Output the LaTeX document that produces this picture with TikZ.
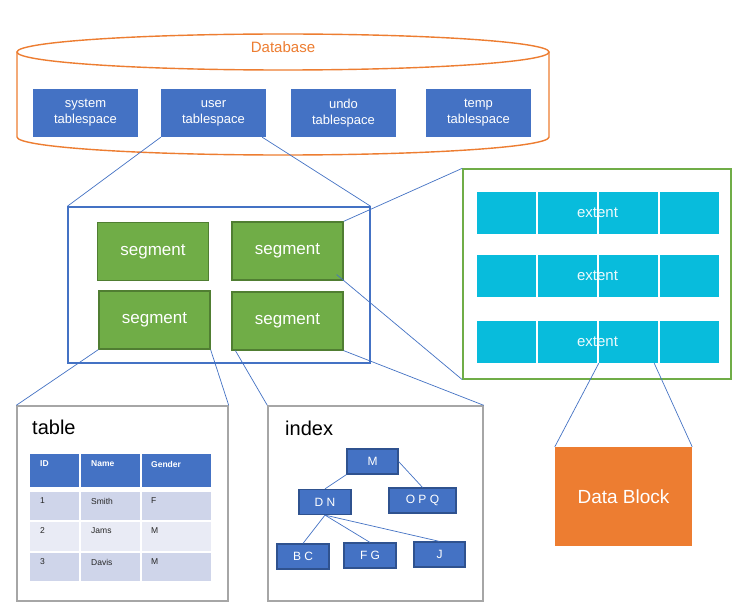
\documentclass[tikz,border=0pt]{standalone}
\usepackage{fontspec}
\setmainfont{Liberation Sans}
\usetikzlibrary{calc}
\definecolor{tsblue}{HTML}{4472C4}
\definecolor{dkblue}{HTML}{2F528F}
\definecolor{orng}{HTML}{ED7D31}
\definecolor{grn}{HTML}{70AD47}
\definecolor{dkgrn}{HTML}{507E32}
\definecolor{cyanx}{RGB}{8,188,220}
\definecolor{gry}{HTML}{A6A6A6}
\definecolor{rowa}{HTML}{CFD5EA}
\definecolor{rowb}{HTML}{E9EBF5}
\newcommand{\fsz}[2]{\fontsize{#1}{#2}\selectfont}
\begin{document}
\begin{tikzpicture}[x=1pt,y=-1pt,
  tspace/.style={fill=tsblue, text=white, minimum width=105pt, minimum height=48pt, inner sep=0pt, align=center, font=\fsz{13}{16}},
  seg/.style={fill=grn, draw=dkgrn, line width=1.2pt, text=white, minimum width=111pt, minimum height=58pt, inner sep=0pt, font=\fsz{17}{20}},
  cell/.style={fill=cyanx, minimum width=59pt, minimum height=42pt, inner sep=0pt},
  exttext/.style={text=white!92!cyanx, font=\fsz{15}{18}, inner sep=0pt},
  link/.style={draw=tsblue, line width=0.7pt},
  frame/.style={draw=#1, line width=1.4pt, inner sep=0pt, fill=none},
  inode/.style={fill=tsblue, draw=dkblue, line width=1.2pt, text=white, minimum height=25pt, inner sep=0pt, font=\fsz{12}{14}},
  tcell/.style={fill=#1, inner sep=0pt},
  thtext/.style={text=white, font=\bfseries\fsz{8.5}{10}, anchor=west, inner sep=0pt},
  tdtext/.style={text=black!85, font=\fsz{8.5}{10}, anchor=west, inner sep=0pt},
  title/.style={font=\fsz{20}{24}, anchor=west, inner sep=0pt}
]
\useasboundingbox (0,0) rectangle (734,615);
\fill[white] (0,0) rectangle (734,615);

% Database cylinder
\draw[orng, line width=1.4pt] (17,52) .. controls (17,42.06) and (136.1,34) .. (283,34) .. controls (429.9,34) and (549,42.06) .. (549,52) .. controls (549,61.94) and (429.9,70) .. (283,70) .. controls (136.1,70) and (17,61.94) .. (17,52) -- cycle;
\draw[orng, line width=1.4pt] (17,52) -- (17,137) .. controls (17,146.94) and (136.1,155) .. (283,155) .. controls (429.9,155) and (549,146.94) .. (549,137) -- (549,52);
\node[text=orng, font=\fsz{15}{18}] (dbtxt) at (283,47) {Database};

% tablespaces
\node[tspace] (sys)  at (85.5,113)  {system\\tablespace};
\node[tspace] (user) at (213.5,113) {user\\tablespace};
\node[tspace] (undo) at (343.5,113) {undo\\tablespace};
\node[tspace] (temp) at (478.5,113) {temp\\tablespace};

% segment container
\node[frame=tsblue, minimum width=302pt, minimum height=156pt] (cont) at (219,285) {};
\node[seg] (seg1) at (153,251.5) {segment};
\node[seg] (seg2) at (287.5,251) {segment};
\node[seg] (seg3) at (154.5,320) {segment};
\node[seg] (seg4) at (287.5,321) {segment};

% extent box
\node[frame=grn, minimum width=268pt, minimum height=210pt] (ext) at (597,274) {};
\foreach \r/\y in {1/213,2/276,3/342}{
  \node[cell] (e\r a) at (506.5,\y) {};
  \node[cell] (e\r b) at (567.5,\y) {};
  \node[cell] (e\r c) at (628.5,\y) {};
  \node[cell] (e\r d) at (689.5,\y) {};
  \node[exttext] (et\r) at (597.5,\y) {extent};
}

% data block
\node[fill=orng, text=white, minimum width=137pt, minimum height=99pt, inner sep=0pt, font=\fsz{19}{22}] (blk) at (623.5,496.5) {Data Block};

% table box
\node[frame=gry, minimum width=211pt, minimum height=195pt] (tbl) at (122.5,503.5) {};
\node[title] (tbltitle) at (32,427) {table};
\node[tcell=tsblue, minimum width=49pt, minimum height=33pt] (h1) at (54.5,470.5) {};
\node[tcell=tsblue, minimum width=59pt, minimum height=33pt] (h2) at (110.5,470.5) {};
\node[tcell=tsblue, minimum width=69pt, minimum height=33pt] (h3) at (176.5,470.5) {};
\foreach \r/\y/\h/\c in {1/505.5/28/rowa,2/536.5/29/rowb,3/567/28/rowa}{
  \node[tcell=\c, minimum width=49pt, minimum height=\h pt] (r\r c1) at (54.5,\y) {};
  \node[tcell=\c, minimum width=59pt, minimum height=\h pt] (r\r c2) at (110.5,\y) {};
  \node[tcell=\c, minimum width=69pt, minimum height=\h pt] (r\r c3) at (176.5,\y) {};
}
\node[thtext] (ht1) at (40,464) {ID};
\node[thtext] (ht2) at (91,464) {Name};
\node[thtext] (ht3) at (151,464) {Gender};
\node[tdtext] (d11) at (40,501) {1};
\node[tdtext] (d12) at (91,501) {Smith};
\node[tdtext] (d13) at (151,501) {F};
\node[tdtext] (d21) at (40,531) {2};
\node[tdtext] (d22) at (91,531) {Jams};
\node[tdtext] (d23) at (151,531) {M};
\node[tdtext] (d31) at (40,562) {3};
\node[tdtext] (d32) at (91,562) {Davis};
\node[tdtext] (d33) at (151,562) {M};

% index box
\node[frame=gry, minimum width=215pt, minimum height=195pt] (idx) at (375.5,503.5) {};
\node[title] (idxtitle) at (285,428) {index};
\node[inode, minimum width=51pt] (M) at (372.5,461.5) {M};
\node[inode, minimum width=52pt] (DN) at (325,502) {D N};
\node[inode, minimum width=67pt] (OPQ) at (422.5,500.5) {O P Q};
\node[inode, minimum width=52pt] (BC) at (303,556.5) {B C};
\node[inode, minimum width=52pt] (FG) at (370,555.5) {F G};
\node[inode, minimum width=51pt] (J) at (439.5,554.5) {J};

% connectors
\draw[link] (user.south west) -- (cont.north west);
\draw[link] ($(user.south east)+(-4,0)$) -- (cont.north east);
\draw[link] (seg2.north east) -- (ext.north west);
\draw[link] ($(seg2.south east)+(-7,-6)$) -- (ext.south west);
\draw[link] (seg3.south west) -- (tbl.north west);
\draw[link] (seg3.south east) -- (tbl.north east);
\draw[link] ($(seg4.south west)+(4,0)$) -- (idx.north west);
\draw[link] (seg4.south east) -- (idx.north east);
\draw[link] (e3c.south west) -- (blk.north west);
\draw[link] ($(e3c.south east)+(-4,0)$) -- (blk.north east);
\draw[link] (M.south west) -- (DN.north);
\draw[link] (M.east) -- (OPQ.north);
\draw[link] (DN.south) -- (BC.north);
\draw[link] (DN.south) -- (FG.north);
\draw[link] (DN.south) -- (J.north);
\end{tikzpicture}
\end{document}
